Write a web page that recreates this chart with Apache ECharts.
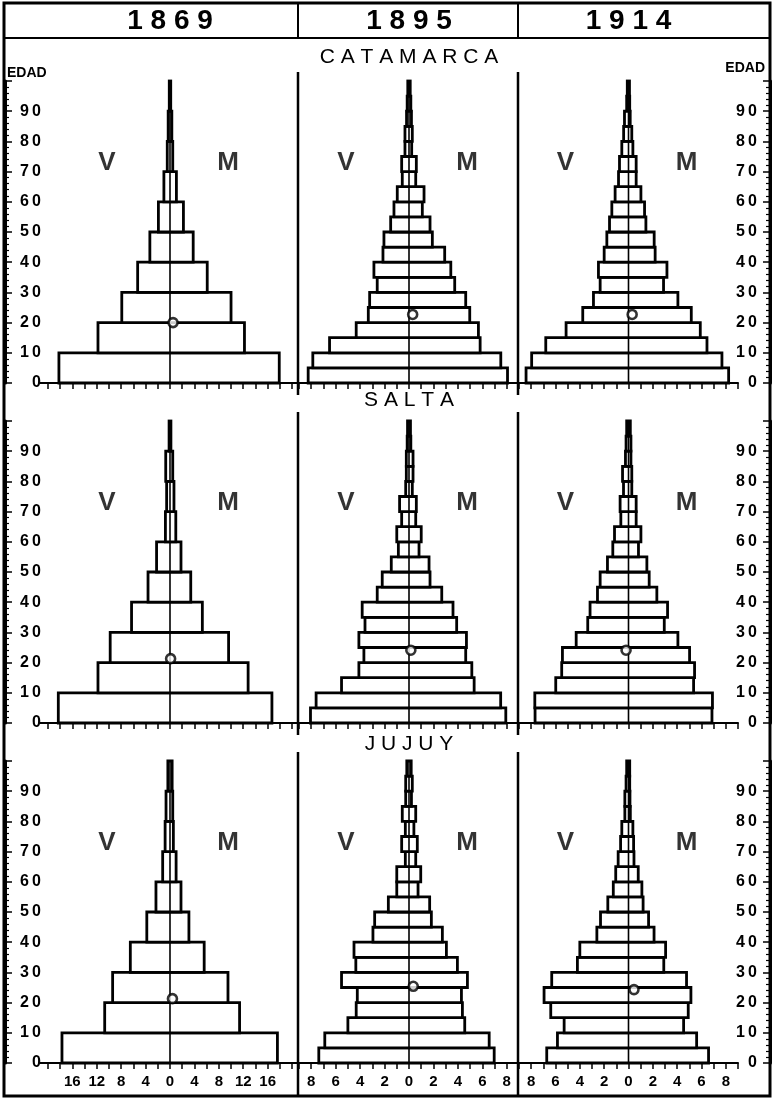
<!DOCTYPE html>
<html><head><meta charset="utf-8">
<script src="https://cdn.jsdelivr.net/npm/echarts@6/dist/echarts.min.js"></script>
<style>html,body{margin:0;padding:0;background:#fff}#c{width:773px;height:1098px}</style>
</head><body><div id="c"></div>
<script>
// ---------- data ----------
const years = ['1869', '1895', '1914'];
const provinces = ['CATAMARCA', 'SALTA', 'JUJUY'];
const ageStart10 = [0, 10, 20, 30, 40, 50, 60, 70, 80, 90];
const ageStart5 = [0, 5, 10, 15, 20, 25, 30, 35, 40, 45, 50, 55, 60, 65, 70, 75, 80, 85, 90, 95];
const edadTicks = [0, 10, 20, 30, 40, 50, 60, 70, 80, 90];
const xLabels1869 = [-16, -12, -8, -4, 0, 4, 8, 12, 16];
const xTicks1869 = [-20, -18, -16, -14, -12, -10, -8, -6, -4, -2, 0, 2, 4, 6, 8, 10, 12, 14, 16, 18, 20];
const xLabels5 = [-8, -6, -4, -2, 0, 2, 4, 6, 8];

// V = varones (left), M = mujeres (right)
const catamarca1869V = [18.2, 11.8, 7.9, 5.3, 3.3, 1.9, 1.0, 0.45, 0.3, 0.12];
const catamarca1869M = [17.9, 12.2, 10.0, 6.1, 3.8, 2.2, 1.05, 0.45, 0.3, 0.12];
const salta1869V = [18.3, 11.8, 9.8, 6.3, 3.6, 2.2, 0.75, 0.55, 0.7, 0.15];
const salta1869M = [16.7, 12.8, 9.6, 5.3, 3.4, 1.8, 0.95, 0.65, 0.45, 0.15];
const jujuy1869V = [17.7, 10.7, 9.4, 6.5, 3.8, 2.3, 1.2, 0.8, 0.65, 0.35];
const jujuy1869M = [17.6, 11.4, 9.5, 5.6, 3.1, 1.8, 1.0, 0.55, 0.45, 0.35];

const catamarca1895V = [8.25, 7.87, 6.5, 4.32, 3.33, 3.22, 2.6, 2.87, 2.13, 2.05, 1.5, 1.23, 0.96, 0.55, 0.6, 0.33, 0.33, 0.2, 0.15, 0.1];
const catamarca1895M = [8.06, 7.51, 5.82, 5.68, 4.97, 4.64, 3.74, 3.42, 2.92, 1.91, 1.72, 1.09, 1.23, 0.55, 0.6, 0.22, 0.27, 0.2, 0.15, 0.1];
const salta1895V = [8.06, 7.6, 5.52, 4.1, 3.69, 4.1, 3.6, 3.83, 2.6, 2.19, 1.45, 0.87, 1.0, 0.6, 0.77, 0.27, 0.22, 0.22, 0.15, 0.12];
const salta1895M = [7.92, 7.5, 5.33, 5.14, 4.64, 4.7, 3.9, 3.6, 2.68, 1.72, 1.64, 0.82, 1.0, 0.55, 0.6, 0.27, 0.33, 0.33, 0.15, 0.12];
const jujuy1895V = [7.38, 6.89, 5.0, 4.32, 4.23, 5.52, 4.35, 4.5, 2.95, 2.81, 1.69, 1.0, 1.0, 0.3, 0.6, 0.3, 0.55, 0.27, 0.27, 0.18];
const jujuy1895M = [6.97, 6.56, 4.56, 4.37, 4.29, 4.78, 3.96, 3.06, 2.73, 1.83, 1.69, 0.74, 0.96, 0.55, 0.68, 0.4, 0.55, 0.2, 0.27, 0.18];

const catamarca1914V = [8.42, 7.96, 6.8, 5.13, 3.76, 2.88, 2.33, 2.47, 2.0, 1.78, 1.56, 1.37, 1.1, 0.82, 0.74, 0.55, 0.4, 0.33, 0.15, 0.1];
const catamarca1914M = [8.23, 7.68, 6.45, 5.9, 5.16, 4.06, 2.88, 3.16, 2.19, 2.11, 1.43, 1.32, 1.02, 0.63, 0.63, 0.36, 0.27, 0.14, 0.1, 0.08];
const salta1914V = [7.68, 7.7, 5.98, 5.49, 5.43, 4.3, 3.35, 3.16, 2.55, 2.33, 1.73, 1.29, 1.15, 0.63, 0.69, 0.41, 0.49, 0.25, 0.2, 0.15];
const salta1914M = [6.86, 6.9, 5.35, 5.43, 5.02, 4.06, 2.94, 3.21, 2.33, 1.7, 1.51, 0.82, 1.02, 0.63, 0.63, 0.27, 0.27, 0.2, 0.2, 0.15];
const jujuy1914V = [6.72, 5.84, 5.29, 6.39, 6.94, 6.31, 4.2, 4.0, 2.6, 2.3, 1.7, 1.25, 1.05, 0.85, 0.65, 0.55, 0.3, 0.3, 0.2, 0.15];
const jujuy1914M = [6.58, 5.6, 4.53, 4.91, 5.13, 4.77, 2.9, 3.05, 2.1, 1.65, 1.2, 1.1, 0.8, 0.45, 0.42, 0.36, 0.15, 0.12, 0.1, 0.1];

// median age circles, row by row (Catamarca 1869,1895,1914, Salta ..., Jujuy ...)
const medianAge = [20.0, 22.7, 22.7, 21.3, 24.1, 24.1, 21.3, 25.4, 24.3];
const medianX = [0.5, 0.3, 0.3, 0.1, 0.15, -0.2, 0.4, 0.35, 0.45];

// ---------- layout ----------
const rowZero = [383, 723, 1063];
const titleY = [57, 400, 744];
const plotH = 302;
const colLeft = [40, 299, 519];
const colW = [260, 220, 219];
const xHalf = [21.3, 9, 9];
const FONT = "'Liberation Sans', Arial, sans-serif";

const pyramids = [
  [[catamarca1869V, catamarca1869M], [catamarca1895V, catamarca1895M], [catamarca1914V, catamarca1914M]],
  [[salta1869V, salta1869M], [salta1895V, salta1895M], [salta1914V, salta1914M]],
  [[jujuy1869V, jujuy1869M], [jujuy1895V, jujuy1895M], [jujuy1914V, jujuy1914M]]
];

const grid = [], xAxis = [], yAxis = [], series = [];

function renderBars(params, api) {
  const a0 = api.value(0), a1 = api.value(1), v = api.value(2), m = api.value(3);
  const tl = api.coord([-v, a1]);
  const br = api.coord([m, a0]);
  return {
    type: 'rect',
    shape: { x: tl[0], y: tl[1], width: br[0] - tl[0], height: br[1] - tl[1] },
    style: { fill: '#fff', stroke: '#000', lineWidth: 2.8 }
  };
}

for (let r = 0; r < 3; r++) {
  for (let c = 0; c < 3; c++) {
    const gi = r * 3 + c;
    grid.push({
      left: colLeft[c], width: colW[c], top: rowZero[r] - plotH, height: plotH,
      containLabel: false, outerBoundsMode: 'none'
    });
    const is1869 = c === 0;
    xAxis.push({
      type: 'value', gridIndex: gi, min: -xHalf[c], max: xHalf[c],
      interval: is1869 ? undefined : 1,
      splitLine: { show: false },
      axisLine: { show: true, onZero: false, lineStyle: { color: '#000', width: 2 } },
      axisTick: is1869
        ? { show: true, length: 6, lineStyle: { color: '#000', width: 1.5 }, customValues: xTicks1869 }
        : { show: true, length: 6, lineStyle: { color: '#000', width: 1.5 } },
      axisLabel: {
        show: r === 2,
        customValues: is1869 ? xLabels1869 : xLabels5,
        formatter: v => String(Math.abs(v)),
        color: '#000', fontFamily: FONT, fontWeight: 'bold', fontSize: 15, margin: 11
      }
    });
    const yBase = {
      type: 'value', gridIndex: gi, min: 0, max: 100, interval: 10,
      splitLine: { show: false }
    };
    if (c === 0 || c === 2) {
      yAxis.push(Object.assign(yBase, {
        position: c === 0 ? 'left' : 'right',
        offset: c === 0 ? colLeft[0] - 5 : 770 - (colLeft[2] + colW[2]),
        axisLine: { show: true, onZero: false, lineStyle: { color: '#000', width: 3 } },
        axisTick: { show: true, inside: true, length: 7, lineStyle: { color: '#000', width: 1.5 } },
        minorTick: { show: true, splitNumber: 5, length: 4, lineStyle: { color: '#000', width: 1.2 } },
        axisLabel: {
          show: true, inside: true, align: 'right', margin: c === 0 ? 36 : 13,
          customValues: edadTicks,
          formatter: v => String(v).split('').join('\u2009'),
          color: '#000', fontFamily: FONT, fontWeight: 'bold', fontSize: 16
        }
      }));
    } else {
      yAxis.push(Object.assign(yBase, { show: false, axisLine: { onZero: false } }));
    }

    const [V, M] = pyramids[r][c];
    const starts = is1869 ? ageStart10 : ageStart5;
    const step = is1869 ? 10 : 5;
    series.push({
      type: 'custom', xAxisIndex: gi, yAxisIndex: gi, z: 2,
      renderItem: renderBars,
      encode: { x: [2, 3], y: [0, 1] },
      data: starts.map((a, i) => [a, a + step, V[i], M[i]])
    });
    series.push({
      type: 'line', xAxisIndex: gi, yAxisIndex: gi, z: 3, symbol: 'none',
      lineStyle: { color: '#000', width: 1.6 },
      data: [[0, 0], [0, 100]]
    });
    series.push({
      type: 'scatter', xAxisIndex: gi, yAxisIndex: gi, z: 4,
      symbol: 'circle', symbolSize: 9,
      itemStyle: { color: '#fff', borderColor: '#000', borderWidth: 2.6 },
      data: [[medianX[gi], medianAge[gi]]]
    });
    const pxPerUnit = colW[c] / (2 * xHalf[c]);
    series.push({
      type: 'scatter', xAxisIndex: gi, yAxisIndex: gi, z: 4,
      symbolSize: 0, silent: true,
      label: {
        show: true, position: 'inside', formatter: p => p.data[2],
        color: '#000', fontFamily: FONT, fontWeight: 'bold', fontSize: 26
      },
      data: [[-63 / pxPerUnit, 73, 'V'], [58 / pxPerUnit, 73, 'M']]
    });
  }
}

// ---------- frame and texts ----------
const colCenter = c => colLeft[c] + colW[c] / 2;
const graphic = [];
graphic.push({ type: 'rect', shape: { x: 4, y: 3, width: 766, height: 1093 }, style: { fill: 'none', stroke: '#000', lineWidth: 3 }, z: 10 });
graphic.push({ type: 'line', shape: { x1: 4, y1: 38, x2: 770, y2: 38 }, style: { stroke: '#000', lineWidth: 2 }, z: 10 });
[298, 518].forEach(x => {
  graphic.push({ type: 'line', shape: { x1: x, y1: 3, x2: x, y2: 38 }, style: { stroke: '#000', lineWidth: 2 }, z: 10 });
  rowZero.forEach((z0, r) => {
    graphic.push({ type: 'line', shape: { x1: x, y1: z0 - 311, x2: x, y2: r === 2 ? 1096 : z0 + 12 }, style: { stroke: '#000', lineWidth: 2.5 }, z: 10 });
  });
});
years.forEach((y, c) => {
  graphic.push({ type: 'text', x: colCenter(c), y: 21, z: 10,
    style: { text: y.split('').join(' '), align: 'center', verticalAlign: 'middle', fill: '#000', font: "bold 28px " + FONT } });
});
provinces.forEach((p, r) => {
  graphic.push({ type: 'text', x: 409, y: titleY[r], z: 10,
    style: { text: p.split('').join(' '), align: 'center', verticalAlign: 'middle', fill: '#000', font: "21px " + FONT } });
});
graphic.push({ type: 'text', x: 7, y: 73, z: 10, style: { text: 'EDAD', align: 'left', verticalAlign: 'middle', fill: '#000', font: "bold 14px " + FONT } });
graphic.push({ type: 'text', x: 765, y: 68, z: 10, style: { text: 'EDAD', align: 'right', verticalAlign: 'middle', fill: '#000', font: "bold 14px " + FONT } });

const chart = echarts.init(document.getElementById('c'), null, { renderer: 'canvas' });
chart.setOption({
  animation: false,
  backgroundColor: '#fff',
  grid, xAxis, yAxis, series, graphic
});
</script>
</body></html>
